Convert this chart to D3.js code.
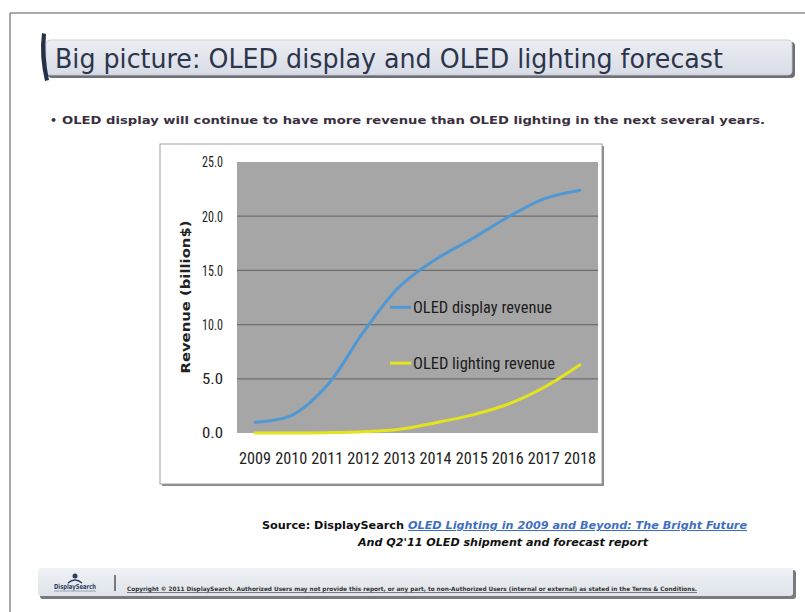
<!DOCTYPE html>
<html>
<head>
<meta charset="utf-8">
<script src="https://cdn.jsdelivr.net/npm/d3@7"></script>
<style>
  html, body { margin: 0; padding: 0; background: #ffffff; }
  svg { display: block; }
</style>
</head>
<body>
<svg id="chart" width="805" height="612"></svg>
<script>
// ---- Data ----
const years = ["2009","2010","2011","2012","2013","2014","2015","2016","2017","2018"];
const displayRevenue  = [1.0, 1.6, 4.4, 9.3, 13.5, 16.0, 17.9, 19.9, 21.6, 22.4];
const lightingRevenue = [0.0, 0.0, 0.03, 0.12, 0.35, 0.95, 1.65, 2.65, 4.2, 6.3];
const yTicks = [0, 5, 10, 15, 20, 25];
const seriesNames = ["OLED display revenue", "OLED lighting revenue"];
const titleText = "Big picture: OLED display and OLED lighting forecast";
const bulletText = "OLED display will continue to have more revenue than OLED lighting in the next several years.";
const yAxisTitle = "Revenue (billion$)";
const sourceLabel = "Source: DisplaySearch ";
const sourceLink = "OLED Lighting in 2009 and Beyond: The Bright Future";
const sourceLine2 = "And Q2'11 OLED shipment and forecast report";
const copyrightText = "Copyright \u00A9 2011 DisplaySearch. Authorized Users may not provide this report, or any part, to non-Authorized Users (internal or external) as stated in the Terms & Conditions.";

const svg = d3.select("#chart");
const defs = svg.append("defs");

const gTitle = defs.append("linearGradient").attr("id","titleGrad").attr("x1",0).attr("y1",0).attr("x2",0).attr("y2",1);
gTitle.append("stop").attr("offset","0%").attr("stop-color","#eceef3");
gTitle.append("stop").attr("offset","100%").attr("stop-color","#d8dce6");
const gFoot = defs.append("linearGradient").attr("id","footGrad").attr("x1",0).attr("y1",0).attr("x2",0).attr("y2",1);
gFoot.append("stop").attr("offset","0%").attr("stop-color","#eef1f5");
gFoot.append("stop").attr("offset","100%").attr("stop-color","#dfe4ea");

// ---- Page frame ----
svg.append("line").attr("x1",10).attr("y1",13).attr("x2",805).attr("y2",13).attr("stroke","#8c8c8c").attr("stroke-width",1.5);
svg.append("line").attr("x1",10).attr("y1",13).attr("x2",10).attr("y2",612).attr("stroke","#8c8c8c").attr("stroke-width",1.5);

// ---- Title bar ----
svg.append("rect").attr("x",48).attr("y",42).attr("width",747).attr("height",36).attr("rx",4).attr("fill","#6e7078");
svg.append("rect").attr("x",46).attr("y",40).attr("width",746).attr("height",35).attr("rx",4).attr("fill","url(#titleGrad)").attr("stroke","#c4c8d2").attr("stroke-width",0.8);
svg.append("path").attr("d","M42,33 Q39,56 45,81 L49,80 Q44,56 46,34 Z").attr("fill","#27304a");
svg.append("text").attr("x",55).attr("y",68)
  .attr("font-family","'DejaVu Sans', Verdana, sans-serif").attr("font-size",26)
  .attr("fill","#2d354b").attr("textLength",668).attr("lengthAdjust","spacingAndGlyphs")
  .text(titleText);

// ---- Bullet ----
svg.append("text").attr("x",50).attr("y",124).attr("font-family","'DejaVu Sans', sans-serif").attr("font-size",11).attr("font-weight","bold").attr("fill","#3a3040").text("\u2022");
svg.append("text").attr("x",62).attr("y",124)
  .attr("font-family","'DejaVu Sans', Verdana, sans-serif").attr("font-size",10.5).attr("font-weight","bold")
  .attr("fill","#3a3040").attr("textLength",703).attr("lengthAdjust","spacingAndGlyphs")
  .text(bulletText);

// ---- Chart box ----
svg.append("rect").attr("x",162).attr("y",146).attr("width",442).attr("height",340).attr("fill","#8a8a8a");
svg.append("rect").attr("x",160).attr("y",144).attr("width",442).attr("height",340).attr("fill","#ffffff").attr("stroke","#a0a0a0").attr("stroke-width",1);

const plot = {left:237, right:598, top:162, bottom:433};
const x = d3.scaleBand().domain(years).range([plot.left, plot.right]).padding(0);
const y = d3.scaleLinear().domain([0,25]).range([plot.bottom, plot.top]);

svg.append("rect").attr("x",plot.left).attr("y",plot.top).attr("width",plot.right-plot.left).attr("height",plot.bottom-plot.top).attr("fill","#a6a6a6");

svg.append("g").selectAll("line").data(yTicks.filter(t => t > 0 && t < 25)).join("line")
  .attr("x1",plot.left).attr("x2",plot.right)
  .attr("y1",d=>y(d)).attr("y2",d=>y(d))
  .attr("stroke","#6e6e6e").attr("stroke-width",1.2);

const tickFont = "'Liberation Sans Narrow', 'Roboto Condensed', 'Liberation Sans', sans-serif";

const yAxis = svg.append("g").attr("transform",`translate(${plot.left},0)`)
  .call(d3.axisLeft(y).tickValues(yTicks).tickFormat(d3.format(".1f")).tickSize(0).tickPadding(14));
yAxis.select(".domain").remove();
yAxis.selectAll("text").attr("font-family",tickFont).attr("font-size",15.5).attr("fill","#222")
  .attr("textLength",21).attr("lengthAdjust","spacingAndGlyphs");

const xAxis = svg.append("g").attr("transform",`translate(0,${plot.bottom})`)
  .call(d3.axisBottom(x).tickSize(0).tickPadding(20));
xAxis.select(".domain").remove();
xAxis.selectAll("text").attr("font-family",tickFont).attr("font-size",16).attr("fill","#222")
  .attr("textLength",32).attr("lengthAdjust","spacingAndGlyphs");

svg.append("text").attr("transform","translate(190,297) rotate(-90)")
  .attr("text-anchor","middle").attr("font-family","'DejaVu Sans', Verdana, sans-serif")
  .attr("font-size",12).attr("font-weight","bold").attr("fill","#222")
  .attr("textLength",153).attr("lengthAdjust","spacingAndGlyphs")
  .text(yAxisTitle);

// ---- Lines ----
const colors = ["#4f98d4", "#e4e41c"];
const series = [displayRevenue, lightingRevenue];
const line = d3.line()
  .x((d,i) => x(years[i]) + x.bandwidth()/2)
  .y(d => y(d))
  .curve(d3.curveCatmullRom.alpha(0.5));

svg.append("g").selectAll("path").data(series).join("path")
  .attr("d", d => line(d))
  .attr("fill","none")
  .attr("stroke",(d,i)=>colors[i])
  .attr("stroke-width",3)
  .attr("stroke-linejoin","round").attr("stroke-linecap","round");

// ---- Legend (inside plot) ----
const legendY = [11.6, 6.45];
const legendLen = [139, 142];
const leg = svg.append("g").selectAll("g").data(seriesNames).join("g");
leg.append("line").attr("x1",390).attr("x2",411)
  .attr("y1",(d,i)=>y(legendY[i])).attr("y2",(d,i)=>y(legendY[i]))
  .attr("stroke",(d,i)=>colors[i]).attr("stroke-width",3);
leg.append("text").attr("x",413).attr("y",(d,i)=>y(legendY[i])).attr("dy","0.35em")
  .attr("font-family",tickFont).attr("font-size",16).attr("fill","#1c1c1c")
  .attr("textLength",(d,i)=>legendLen[i]).attr("lengthAdjust","spacingAndGlyphs")
  .text(d=>d);

// ---- Source ----
svg.append("text").attr("x",262).attr("y",529)
  .attr("font-family","'DejaVu Sans', Verdana, sans-serif").attr("font-size",10.5).attr("font-weight","bold")
  .attr("fill","#111").attr("textLength",142).attr("lengthAdjust","spacingAndGlyphs").text(sourceLabel);
svg.append("text").attr("x",408).attr("y",529)
  .attr("font-family","'DejaVu Sans', Verdana, sans-serif").attr("font-size",10.5).attr("font-weight","bold")
  .attr("font-style","italic").attr("text-decoration","underline")
  .attr("fill","#3f6fc0").attr("textLength",339).attr("lengthAdjust","spacingAndGlyphs").text(sourceLink);
svg.append("text").attr("x",358).attr("y",546)
  .attr("font-family","'DejaVu Sans', Verdana, sans-serif").attr("font-size",10.5).attr("font-weight","bold")
  .attr("font-style","italic")
  .attr("fill","#111").attr("textLength",290).attr("lengthAdjust","spacingAndGlyphs").text(sourceLine2);

// ---- Footer ----
svg.append("rect").attr("x",40).attr("y",570).attr("width",756).attr("height",29).attr("rx",3).attr("fill","#777a80");
svg.append("rect").attr("x",38).attr("y",568).attr("width",755).attr("height",28).attr("rx",3).attr("fill","url(#footGrad)");
// logo
svg.append("circle").attr("cx",75).attr("cy",576).attr("r",2.5).attr("fill","#2f3e5c");
svg.append("path").attr("d","M68,583 Q75,577 82,583").attr("fill","none").attr("stroke","#2f3e5c").attr("stroke-width",1.5);
svg.append("text").attr("x",54).attr("y",589).attr("font-family","'DejaVu Sans', sans-serif").attr("font-size",7).attr("font-weight","bold")
  .attr("fill","#2f3e5c").attr("textLength",42).attr("lengthAdjust","spacingAndGlyphs").text("DisplaySearch");
svg.append("line").attr("x1",54).attr("x2",96).attr("y1",591).attr("y2",591).attr("stroke","#8090a8").attr("stroke-width",0.8);
svg.append("line").attr("x1",115).attr("x2",115).attr("y1",575).attr("y2",591).attr("stroke","#555").attr("stroke-width",1.5);
svg.append("text").attr("x",127).attr("y",591)
  .attr("font-family","'DejaVu Sans', sans-serif").attr("font-size",6).attr("font-weight","bold")
  .attr("fill","#333").attr("textLength",570).attr("lengthAdjust","spacingAndGlyphs")
  .attr("text-decoration","underline").text(copyrightText);
</script>
</body>
</html>
